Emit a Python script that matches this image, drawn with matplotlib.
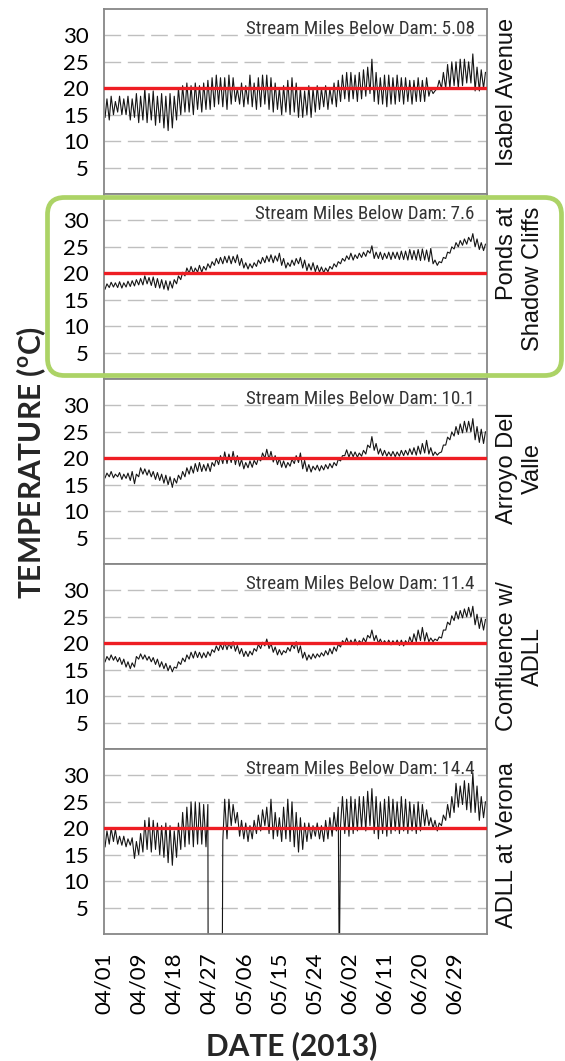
import matplotlib.pyplot as plt
import numpy as np
from matplotlib.patches import FancyBboxPatch

plt.rcParams['mathtext.fontset'] = 'custom'
plt.rcParams['mathtext.rm'] = 'Lato:bold'
plt.rcParams['mathtext.bf'] = 'Lato:bold'

# site names (right side) and distance below the dam
sites = ['Isabel Avenue', 'Ponds at\nShadow Cliffs', 'Arroyo Del\nValle', 'Confluence w/\nADLL', 'ADLL at Verona']
site_align = ['center', 'right', 'center', 'center', 'center']
miles = ['5.08', '7.6', '10.1', '11.4', '14.4']

# x axis: days from the first tick (04/01/2013)
tick_days = [0, 9, 18, 27, 36, 45, 54, 63, 72, 81, 90]
tick_labels = ['04/01', '04/09', '04/18', '04/27', '05/06', '05/15', '05/24', '06/02', '06/11', '06/20', '06/29']
x_end = 98.1
threshold = 20

# low / high temperature (C) of each diurnal cycle at 91 even steps across it
n_readings = 91
isabel_max = [18, 18.5, 17.5, 18.5, 18, 18.5, 18, 19, 18.5, 20, 19, 19.5, 18.5, 19, 18.5, 19, 18.5, 20, 20.5, 21,
              20.5, 21, 20.5, 21, 21.5, 22, 22.5, 22, 22, 22.5, 22, 20, 21, 20.5, 22.5, 21, 22, 22.5, 22.5, 22,
              21, 20, 20.5, 21.5, 22, 21, 20, 19.5, 20.5, 20, 20.5, 20, 20.5, 20, 21, 21.5, 22.5, 23, 23, 22.5,
              23, 23.5, 24, 25.5, 23, 22, 22.5, 22.5, 22, 22.5, 22, 22, 21.5, 21.5, 22, 21.5, 22, 20, 19.5, 21.5,
              23, 24.5, 25, 25, 25.5, 25.5, 25, 26.5, 24, 23.5, 23]
isabel_min = [14.5, 14, 15, 15.5, 15, 15, 14, 14.5, 13.5, 14, 13.5, 14, 13, 13.5, 12.5, 12, 12.5, 14, 15, 15.5,
              15.5, 15, 16, 15.5, 16, 16, 16.5, 17, 16.5, 16, 17, 17.5, 17, 16.5, 17, 16.5, 16, 16.5, 17, 16,
              15.5, 16, 15, 15.5, 15, 15.5, 14.5, 14.5, 15, 14.5, 15.5, 16, 16.5, 16, 17, 16.5, 17.5, 18, 17.5, 18,
              17.5, 18, 18.5, 19, 17.5, 17, 17, 16.5, 17, 17, 17.5, 17, 17.5, 17, 17.5, 17.5, 17.5, 18.5, 19, 20,
              20, 20, 20, 20.5, 20, 20.5, 21, 21, 19.5, 19.5, 20]

ponds_max = [18, 18.3, 18.2, 18.4, 18.2, 18.5, 18.6, 18.8, 19, 19.5, 19.2, 19.3, 19, 18.8, 18.6, 18.5, 18.8, 19.5,
             20.2, 21, 21.3, 21, 21.5, 21.3, 21.8, 22.2, 22.8, 23, 23.2, 23.3, 23.2, 23.5, 22.8, 22, 21.8, 22,
             22.5, 23, 23.3, 23.5, 23.3, 23.8, 22.8, 22, 22.5, 22.8, 23, 22.5, 21.8, 22, 21.5, 21.2, 21, 21.3,
             21.8, 22.2, 22.8, 23.3, 23.8, 23.5, 23.8, 24, 24.3, 25.2, 24, 24, 23.8, 24, 24, 24, 24.2, 24.2, 24.5,
             24.3, 24.5, 24.6, 24.4, 24.7, 22.5, 22.2, 23, 24, 25, 25.8, 26.2, 26.5, 26.8, 27.5, 26.5, 25.8, 25.5]
ponds_min = [17, 17.3, 17.4, 17.3, 17.2, 17.4, 17.5, 17.6, 17.8, 17.8, 18, 17.7, 17.3, 17.2, 17, 16.8, 17.2, 18,
             18.8, 19.5, 20, 20, 20.2, 20.2, 20.6, 21, 21.5, 21.8, 21.8, 22, 21.8, 22, 21.5, 21, 20.8, 21, 21.3,
             21.8, 22, 22.2, 22, 22.3, 21.5, 21, 21.3, 21.5, 21.8, 21, 20.5, 20.6, 20.3, 20.2, 20.1, 20.3, 20.8,
             21.2, 21.8, 22.3, 22.6, 22.5, 22.8, 23, 23.2, 23.8, 22.8, 22.8, 22.6, 22.8, 22.6, 22.8, 22.6, 22.6,
             22.5, 22.6, 22.5, 22.4, 22.5, 22.2, 21.8, 21.5, 22, 22.8, 23.8, 24.6, 25, 25.3, 25.5, 26, 25, 24.5, 24.3]

arroyo_max = [17.2, 17.5, 17, 17.3, 17, 17.2, 17.5, 17, 18.2, 18, 17.8, 17.5, 17.3, 17, 16.8, 16.5, 16.2, 16.8,
              17.5, 18.2, 18.5, 19, 19.2, 18.8, 19, 19.2, 20, 20.5, 21.2, 20.8, 21.3, 20.5, 19.8, 19.2, 19.5,
              19.6, 20, 21, 21.7, 21.3, 20.5, 20, 19.5, 19.2, 19.8, 20.5, 21, 19.6, 18.8, 18.5, 18.7, 18.6, 18.8,
              19, 19.2, 19.8, 20.5, 21.6, 21.3, 21.2, 21, 21.5, 22.5, 24.1, 22.8, 21.8, 21.5, 21.2, 21.3, 21.2,
              21.5, 21.5, 21.8, 22, 22.3, 22.8, 23.4, 22, 21.2, 21, 22.5, 24, 25, 26, 26.5, 27, 27, 27.5, 26, 25.5, 25]
arroyo_min = [16.3, 16.5, 16.3, 16.5, 16, 16.2, 15.8, 15.2, 16.5, 17, 16.8, 16.5, 16, 15.8, 15.3, 15, 14.5, 15.3,
              16, 16.5, 17, 17.2, 17.5, 17.5, 17.6, 17.5, 18.5, 18.8, 19, 19, 19.2, 18.8, 18.5, 18, 18.2, 18.3,
              18.8, 19.5, 20, 19.8, 19.3, 18.8, 18.3, 18.2, 18.5, 19, 19.2, 18, 17.5, 17.4, 17.8, 17.6, 17.8, 18,
              18.2, 18.6, 19.5, 20.5, 20.2, 20.3, 20.2, 20.4, 20.8, 22, 21.5, 20.8, 20.5, 20.4, 20.4, 20.3, 20.4,
              20.5, 20.6, 20.7, 20.6, 20.8, 21, 20.8, 20.5, 20.6, 21.2, 22.5, 23.5, 24.2, 24.5, 24.8, 25, 25, 23.5,
              23, 22.8]

confluence_max = [17.5, 17.8, 17.5, 17.3, 17, 16.5, 16.3, 17.5, 18, 17.8, 17.5, 17.3, 17, 16.5, 16.2, 15.8, 15.5,
                  16.5, 17.2, 17.8, 18.3, 18.5, 18.3, 18.2, 18.4, 18.8, 19.5, 19.8, 20.2, 20, 20.3, 19.6, 19, 18.5,
                  18.5, 19, 19.8, 20.2, 20.8, 20, 19.3, 18.8, 18.6, 19.2, 19.8, 20.3, 19.5, 18.3, 17.8, 18, 18, 18.2,
                  18.6, 19, 19.3, 19.8, 20.5, 21, 20.6, 20.8, 20.5, 21, 21.5, 22.5, 21.5, 20.8, 20.5, 20.6, 20.5,
                  20.6, 20.6, 20.5, 21.2, 21.8, 22.5, 23, 22, 21, 20.8, 21.2, 22.5, 24, 25.2, 26, 26.2, 26.5, 26.8,
                  27, 25.5, 24.8, 24.5]
confluence_min = [16.5, 16.8, 16.8, 16.5, 16, 15.5, 15.2, 15.5, 17, 17, 16.8, 16.5, 16, 15.5, 15.2, 14.8, 14.6,
                  15.3, 16, 16.5, 17, 17.2, 17.3, 17.2, 17.3, 17.6, 18.3, 18.6, 18.8, 18.8, 19, 18.5, 18, 17.5,
                  17.5, 17.8, 18.5, 19, 19.5, 19, 18.3, 17.8, 17.8, 18.2, 18.5, 19, 18.2, 17.2, 16.8, 17, 17.2,
                  17.4, 17.6, 17.8, 18, 18.5, 19.3, 20, 19.8, 19.8, 19.7, 20, 20.2, 21, 20.5, 20, 19.8, 19.8, 19.7,
                  19.8, 19.6, 19.5, 19.8, 20, 20.3, 20.5, 20.4, 20.3, 20.3, 20.5, 21, 22.5, 23.5, 24.3, 24.6, 24.8,
                  25, 25, 23.5, 22.8, 22.5]

nan = float('nan')
verona_max = [19.5, 20, 19.8, 18.5, 18.5, 18, 18.2, 17.5, 19, 21.5, 22, 21.5, 21, 20.5, 21, 20.5, 19.5, 21, 23,
              24, 25, 25, 24.8, 24.5, 24.5, nan, nan, nan, 25.5, 25.5, 24.5, 23, 21.5, 21, 20.5, 21.5, 22.5, 23.5,
              24, 25.5, 23, 22, 24, 25.5, 25, 23, 22, 21, 21, 20.5, 21, 20.5, 21.5, 22, 23, 24, 26, 25.5, 26, 25.5,
              26, 26, 27, 27.5, 26, 25, 25.5, 26, 25.5, 25, 26, 25.5, 25, 24.5, 25, 24.5, 23.5, 22, 21.5, 21, 22.5,
              24.5, 26, 28.5, 28, 29, 28.5, 30.5, 28, 26, 25]
verona_min = [16.5, 17, 17.5, 17, 16.8, 16.5, 16.8, 14.3, 15, 15.5, 16, 15.5, 16, 15, 14.5, 13.5, 13, 14.5, 16,
              16.5, 17, 16.5, 17, 17, 16.5, nan, nan, nan, 17.6, 18, 20.5, 21, 18.5, 18, 17.5, 18, 19, 19.5, 20.5,
              19, 18, 18.5, 17.5, 18, 17.5, 16.5, 15.5, 16, 17.5, 18, 18.5, 18, 17.5, 18, 18.5, 19.5, 20.5, 19,
              18.5, 19, 19.5, 20, 19.5, 20.5, 19, 18, 19, 18.5, 19, 19.5, 19, 19.5, 19, 19.5, 19, 19.5, 20.5, 20.5,
              20, 19.5, 20.5, 21.5, 22, 23, 24, 24.5, 23.5, 23, 23, 21.5, 22]
# logger read zero (out of water) during these spans, in days
verona_zero_spans = [(26.68, 30.35), (60.24, 60.4)]


def build_series(day_min, day_max, zero_spans=()):
    # each reading: low in the morning, high in the afternoon
    step = x_end / n_readings
    t, v = [], []
    for k, (lo, hi) in enumerate(zip(day_min, day_max)):
        t += [(k + 0.25) * step, (k + 0.7) * step]
        v += [lo, hi]
    t = np.array(t)
    v = np.array(v, dtype=float)
    keep = ~np.isnan(v)
    for a, b in zero_spans:
        keep &= ~((t > a) & (t < b))
    t, v = t[keep], v[keep]
    for a, b in zero_spans:
        t = np.append(t, [a, b])
        v = np.append(v, [0, 0])
    order = np.argsort(t)
    return t[order], v[order]


series = [build_series(isabel_min, isabel_max),
          build_series(ponds_min, ponds_max),
          build_series(arroyo_min, arroyo_max),
          build_series(confluence_min, confluence_max),
          build_series(verona_min, verona_max, verona_zero_spans)]

W, H = 565, 1061
fig = plt.figure(figsize=(W / 100, H / 100), dpi=100)

left, right = 104, 486.7
top0, ph = 9, 185
label_y = [91.5, 279, 468, 656, 845]

for i in range(5):
    top = top0 + ph * i
    ax = fig.add_axes([left / W, 1 - (top + ph) / H, (right - left) / W, ph / H])
    t, v = series[i]
    ax.plot(t, v, color='#151515', lw=0.8, zorder=2)
    ax.axhline(threshold, color='#ee1d23', lw=2.4, zorder=3)
    ax.set_xlim(0, x_end)
    ax.set_ylim(0, 35)
    ax.set_yticks([5, 10, 15, 20, 25, 30])
    ax.yaxis.grid(True, color='#bfbfbf', lw=1, dashes=(12, 4.8))
    ax.set_axisbelow(True)
    ax.tick_params(length=0, pad=11, labelsize=16)
    for lab in ax.get_yticklabels():
        lab.set_family('Lato')
    for s in ax.spines.values():
        s.set_color('#878787')
        s.set_linewidth(1.3)
    ax.text(0.969, 0.893, f'Stream Miles Below Dam: {miles[i]}', transform=ax.transAxes,
            ha='right', va='center', fontsize=13.7, family='Roboto Condensed', color='#333333')
    fig.text((520 if '\n' in sites[i] else 507) / W, 1 - label_y[i] / H, sites[i], rotation=90,
             ha='center', va='center', multialignment=site_align[i], fontsize=17,
             family='Liberation Sans', linespacing=1.2, color='#111111')
    ax.set_xticks(tick_days)
    if i < 4:
        ax.set_xticklabels([])
    else:
        ax.set_xticklabels(tick_labels, rotation=90, family='Lato', fontsize=16, va='top', ha='center')
        ax.tick_params(axis='x', pad=13)

fig.text(31 / W, 1 - 463 / H, r'TEMPERATURE ($^{\mathrm{o}}$C)', rotation=90, ha='center', va='center',
         fontsize=21.5, family='Lato', fontweight='bold', color='#262626')
fig.text(292 / W, 1 - 1046 / H, 'DATE (2013)', ha='center', va='center',
         fontsize=21.5, family='Lato', fontweight='bold', color='#262626')

# green highlight box around the Shadow Cliffs panel, drawn in pixel units
over = fig.add_axes([0, 0, 1, 1], facecolor='none')
over.set_xlim(0, W)
over.set_ylim(H, 0)
over.axis('off')
box = FancyBboxPatch((47.5, 197.5), 514, 178, boxstyle='round,pad=0,rounding_size=17',
                     fill=False, edgecolor='#acd366', lw=3.4)
over.add_patch(box)

fig.savefig('out.png', dpi=100)
